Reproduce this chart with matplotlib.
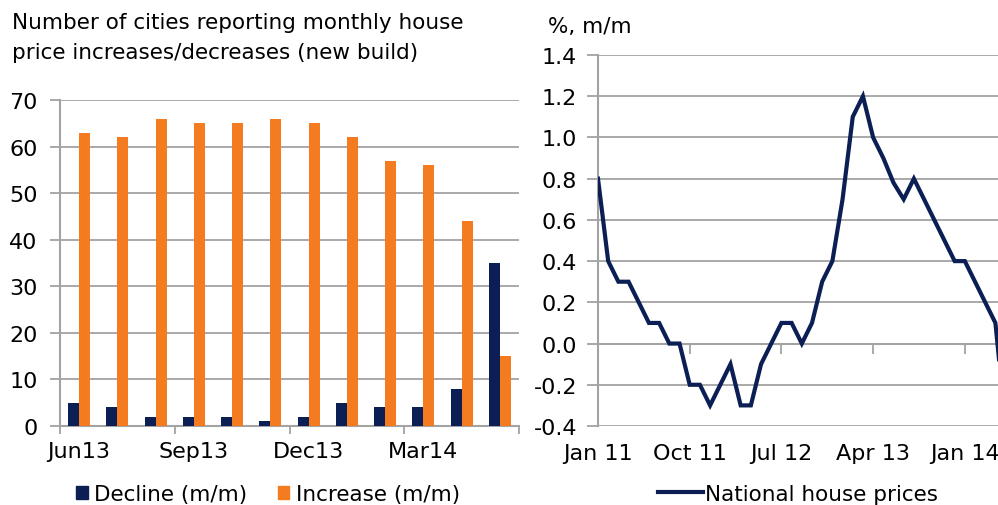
import matplotlib
matplotlib.use("Agg")
import matplotlib.pyplot as plt
from matplotlib.patches import Patch
from matplotlib.lines import Line2D
import numpy as np

plt.rcParams['font.family'] = ['DejaVu Sans']

# left panel: cities reporting price moves, Jun13 - May14
months = ["Jun13", "Jul13", "Aug13", "Sep13", "Oct13", "Nov13", "Dec13",
          "Jan14", "Feb14", "Mar14", "Apr14", "May14"]
decline = [5, 4, 2, 2, 2, 1, 2, 5, 4, 4, 8, 35]
increase = [63, 62, 66, 65, 65, 66, 65, 62, 57, 56, 44, 15]
left_ticklabels = ["Jun13", "Sep13", "Dec13", "Mar14"]

# right panel: national house prices, % m/m, monthly from Jan 11
national = [0.8, 0.4, 0.3, 0.3, 0.2, 0.1, 0.1, 0.0, 0.0, -0.2, -0.2, -0.3,
            -0.2, -0.1, -0.3, -0.3, -0.1, 0.0, 0.1, 0.1, 0.0, 0.1, 0.3, 0.4,
            0.7, 1.1, 1.2, 1.0, 0.9, 0.78, 0.7, 0.8, 0.7, 0.6, 0.5, 0.4,
            0.4, 0.3, 0.2, 0.1, -0.4]
right_ticklabels = ["Jan 11", "Oct 11", "Jul 12", "Apr 13", "Jan 14"]

NAVY = "#0c1f55"
ORANGE = "#f47b20"
GRID = "#a3a3a3"
FS = 16
FS_TEXT = 15.5

W, H = 998, 506
fig = plt.figure(figsize=(W / 100, H / 100), dpi=100)


def box(x0, x1, ytop, ybot):
    return [x0 / W, 1 - ybot / H, (x1 - x0) / W, (ybot - ytop) / H]


# ---- left chart
ax1 = fig.add_axes(box(60, 519, 101, 427))
x = np.arange(len(months))
w = 0.285
ax1.bar(x - w / 2, decline, w, color=NAVY, zorder=3)
ax1.bar(x + w / 2, increase, w, color=ORANGE, zorder=3)
ax1.set_xlim(-0.5, len(months) - 0.5)
ax1.set_ylim(0, 70)
ax1.set_yticks(range(0, 71, 10))
ax1.set_xticks(x[::3])
ax1.set_xticklabels(left_ticklabels)
ax1.set_xticks(np.arange(-0.5, len(months), 3), minor=True)
ax1.tick_params(axis="x", which="major", length=0, pad=11, labelsize=FS)
ax1.tick_params(axis="x", which="minor", length=6, color=GRID, width=1.3)
ax1.tick_params(axis="y", length=7, color=GRID, width=1.3, pad=9, labelsize=FS)
ax1.yaxis.grid(True, color=GRID, lw=1.3, zorder=0)
ax1.set_axisbelow(True)
for s in ["top", "right"]:
    ax1.spines[s].set_visible(False)
for s in ["left", "bottom"]:
    ax1.spines[s].set_color(GRID)
    ax1.spines[s].set_linewidth(1.5)

fig.text(12 / W, 1 - 23 / H, "Number of cities reporting monthly house",
         fontsize=FS_TEXT, va="center", ha="left")
fig.text(12 / W, 1 - 53 / H, "price increases/decreases (new build)",
         fontsize=FS_TEXT, va="center", ha="left")

handles = [Patch(color=NAVY, label="Decline (m/m)"),
           Patch(color=ORANGE, label="Increase (m/m)")]
fig.legend(handles=handles, loc="center left", bbox_to_anchor=(76 / W, 1 - 495 / H),
           ncol=2, frameon=False, fontsize=FS_TEXT, handlelength=0.55, handleheight=0.55,
           handletextpad=0.3, columnspacing=1.4, borderpad=0, borderaxespad=0)

# ---- right chart (runs off the right edge like the source)
t = np.arange(len(national))
px_per_month = 10.19
xmax = 42
ax2 = fig.add_axes(box(598, 598 + xmax * px_per_month, 56, 427))
ax2.plot(t, national, color=NAVY, lw=3, zorder=3, solid_joinstyle="miter")
ax2.set_xlim(0, xmax)
ax2.set_ylim(-0.4, 1.4)
ax2.set_yticks(np.arange(-0.4, 1.41, 0.2))
ax2.set_yticklabels([f"{v:.1f}" for v in np.arange(-0.4, 1.41, 0.2)])
ax2.yaxis.grid(True, color=GRID, lw=1.3, zorder=0)
ax2.tick_params(axis="y", length=8, color=GRID, width=1.3, pad=7, labelsize=FS)
ax2.spines["bottom"].set_position(("data", 0))
for s in ["top", "right"]:
    ax2.spines[s].set_visible(False)
for s in ["left", "bottom"]:
    ax2.spines[s].set_color(GRID)
    ax2.spines[s].set_linewidth(1.5)
ax2.set_xticks([0, 9, 18, 27, 36])
ax2.tick_params(axis="x", length=7, color=GRID, width=1.3, labelbottom=False)
sec = ax2.secondary_xaxis(0)
sec.set_xticks([0, 9, 18, 27, 36])
sec.set_xticklabels(right_ticklabels)
sec.tick_params(axis="x", length=0, pad=12, labelsize=FS)
sec.spines["bottom"].set_visible(False)

fig.text(548 / W, 1 - 27 / H, "%, m/m", fontsize=FS_TEXT, va="center", ha="left")

fig.legend(handles=[Line2D([], [], color=NAVY, lw=3, label="National house prices")],
           loc="center left", bbox_to_anchor=(658 / W, 1 - 495 / H), frameon=False,
           fontsize=FS_TEXT, handlelength=2.1, handletextpad=0.1, borderpad=0, borderaxespad=0)

fig.savefig("out.png", dpi=100)
